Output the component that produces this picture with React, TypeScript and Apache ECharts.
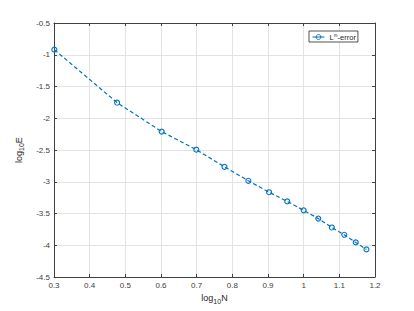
import React, { useEffect, useRef } from "react";
import * as echarts from "echarts";

const logN = [0.301, 0.477, 0.602, 0.699, 0.778, 0.845, 0.903, 0.954, 1.0, 1.041, 1.079, 1.114, 1.146, 1.176];
const logE = [-0.92, -1.755, -2.21, -2.495, -2.765, -2.985, -3.165, -3.31, -3.45, -3.58, -3.72, -3.835, -3.955, -4.065];
const seriesName = "Linf-error";

const AXIS = "#404040";
const GRID = "#e3e3e3";
const BLUE = "#0072BD";
const FONT = "Liberation Sans";

export default function App() {
  const ref = useRef<HTMLDivElement>(null);
  useEffect(() => {
    if (!ref.current) return;
    const chart = echarts.init(ref.current, undefined, { renderer: "svg" });
    const fmt = (v: number) => String(+v.toFixed(1));
    const common = {
      type: "value" as const,
      axisLine: { show: true, onZero: false, lineStyle: { color: AXIS, width: 1 } },
      axisTick: { show: true, inside: true, length: 3, lineStyle: { color: AXIS } },
    };
    const nameRich = {
      a: { fontSize: 9, fontFamily: FONT, color: "#262626" },
      s: { fontSize: 7, fontFamily: FONT, color: "#262626", padding: [6, 0, 0, 0] },
    };
    chart.setOption({
      animation: false,
      backgroundColor: "#fff",
      grid: { left: 54, right: 39, top: 23, bottom: 34, containLabel: false },
      legend: {
        show: true,
        left: 309,
        top: 31,
        orient: "horizontal",
        data: [seriesName],
        backgroundColor: "#fff",
        borderColor: "#262626",
        borderWidth: 0.8,
        borderRadius: 0,
        padding: [1, 2, 1, 3],
        itemWidth: 12,
        itemHeight: 6,
        itemGap: 4,
        lineStyle: { type: "solid", width: 1 },
        itemStyle: { borderWidth: 1 },
        formatter: () => "{a|L}{b|∞}{a|-error}",
        textStyle: {
          fontFamily: FONT,
          color: "#262626",
          rich: {
            a: { fontSize: 7.5, fontFamily: FONT, color: "#262626" },
            b: { fontSize: 5.5, fontFamily: FONT, color: "#262626", padding: [0, 0, 4, 0] },
          },
        },
      },
      xAxis: [
        {
          ...common,
          position: "bottom",
          min: 0.3,
          max: 1.2,
          interval: 0.1,
          splitLine: { show: true, lineStyle: { color: GRID, width: 1 } },
          axisLabel: { fontFamily: FONT, fontSize: 8, color: AXIS, margin: 4, formatter: fmt },
          name: "{a|log}{s|10}{a|N}",
          nameLocation: "middle",
          nameGap: 13,
          nameTextStyle: { fontFamily: FONT, color: "#262626", rich: nameRich },
        },
        {
          ...common,
          position: "top",
          min: 0.3,
          max: 1.2,
          interval: 0.1,
          splitLine: { show: false },
          axisLabel: { show: false },
        },
      ],
      yAxis: [
        {
          ...common,
          position: "left",
          min: -4.5,
          max: -0.5,
          interval: 0.5,
          splitLine: { show: true, lineStyle: { color: GRID, width: 1 } },
          axisLabel: { fontFamily: FONT, fontSize: 8, color: AXIS, margin: 4, formatter: fmt },
          name: "{a|log}{s|10}{a|E}",
          nameLocation: "middle",
          nameGap: 21,
          nameRotate: 90,
          nameTextStyle: { fontFamily: FONT, color: "#262626", rich: nameRich },
        },
        {
          ...common,
          position: "right",
          min: -4.5,
          max: -0.5,
          interval: 0.5,
          splitLine: { show: false },
          axisLabel: { show: false },
        },
      ],
      series: [
        {
          name: seriesName,
          type: "line",
          xAxisIndex: 0,
          yAxisIndex: 0,
          data: logN.map((x, i) => [x, logE[i]]),
          symbol: "circle",
          symbolSize: 5,
          showAllSymbol: true,
          lineStyle: { color: BLUE, width: 1.2, type: [4, 2.5] },
          itemStyle: { color: "rgba(255,255,255,0)", borderColor: BLUE, borderWidth: 1.1 },
        },
      ],
    });
    return () => chart.dispose();
  }, []);
  return <div ref={ref} style={{ width: 414, height: 311, position: "absolute", left: 0, top: 0 }} />;
}
